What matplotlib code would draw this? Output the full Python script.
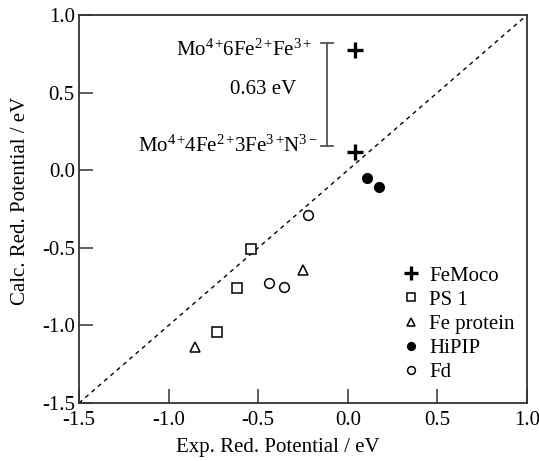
import numpy as np
import matplotlib
matplotlib.use("Agg")
import matplotlib.pyplot as plt

plt.rcParams["font.family"] = ["Liberation Serif", "DejaVu Serif"]
plt.rcParams["mathtext.fontset"] = "custom"
plt.rcParams["mathtext.rm"] = "Liberation Serif"
plt.rcParams["mathtext.it"] = "Liberation Serif:italic"

# data (exp, calc) in eV
femoco_x = [0.04, 0.04]
femoco_y = [0.775, 0.12]
ps1_x = [-0.54, -0.62, -0.73]
ps1_y = [-0.51, -0.76, -1.04]
feprot_x = [-0.25, -0.85]
feprot_y = [-0.64, -1.14]
hipip_x = [0.107, 0.174]
hipip_y = [-0.05, -0.108]
fd_x = [-0.22, -0.44, -0.356]
fd_y = [-0.29, -0.727, -0.753]

ticks = [-1.5, -1.0, -0.5, 0.0, 0.5, 1.0]
tick_labels = ["-1.5", "-1.0", "-0.5", "0.0", "0.5", "1.0"]

spine_col = "#333333"
fs = 15

fig = plt.figure(figsize=(5.39, 4.61), dpi=100)
ax = fig.add_axes([79 / 539, 1 - 403 / 461, 448 / 539, 388 / 461])

# ideal agreement line
ax.plot([-1.5, 1.0], [-1.5, 1.0], ls=(0, (3, 3)), color="black", lw=1.0, zorder=1)

ax.plot(femoco_x, femoco_y, ls="none", marker="+", ms=12, mew=2.4,
        color="black", label="FeMoco")
ax.plot(ps1_x, ps1_y, ls="none", marker="s", ms=6.5, mew=1.1, mfc="white",
        mec="black", label="PS 1")
ax.plot(feprot_x, feprot_y, ls="none", marker="^", ms=7, mew=1.1, mfc="white",
        mec="black", label="Fe protein")
ax.plot(hipip_x, hipip_y, ls="none", marker="o", ms=7, mew=1.0, mfc="black",
        mec="black", label="HiPIP")
ax.plot(fd_x, fd_y, ls="none", marker="o", ms=7, mew=1.1, mfc="white",
        mec="black", label="Fd")

# 0.63 eV bracket between the two FeMoco states
bx, btop, bbot, cap = -0.116, 0.82, 0.156, 0.033
ax.plot([bx, bx], [bbot, btop], color="#555555", lw=1.3)
ax.plot([bx - cap, bx + cap], [btop, btop], color="#555555", lw=1.3)
ax.plot([bx - cap, bx + cap], [bbot, bbot], color="#555555", lw=1.3)
ax.text(-0.20, 0.775, r"$\mathrm{Mo^{4+}\!6Fe^{2+}\!Fe^{3+}}$", ha="right",
        va="center", fontsize=fs)
ax.text(-0.166, 0.155, r"$\mathrm{Mo^{4+}\!4Fe^{2+}\!3Fe^{3+}\!N^{3-}}$",
        ha="right", va="center", fontsize=fs)
ax.text(-0.473, 0.517, "0.63 eV", ha="center", va="center", fontsize=fs)

ax.set_xlim(-1.5, 1.0)
ax.set_ylim(-1.5, 1.0)
ax.set_xticks(ticks)
ax.set_xticklabels(tick_labels)
ax.set_yticks(ticks)
ax.set_yticklabels(tick_labels)
ax.tick_params(direction="in", length=10, width=1.1, color=spine_col,
               labelsize=fs)
ax.tick_params(axis="x", pad=6)
ax.tick_params(axis="y", pad=3)
for s in ax.spines.values():
    s.set_color(spine_col)
    s.set_linewidth(1.3)

ax.set_xlabel("Exp. Red. Potential / eV", fontsize=fs)
ax.set_ylabel("Calc. Red. Potential / eV", fontsize=fs)
ax.xaxis.set_label_coords(0.444, -0.09)
ax.yaxis.set_label_coords(-0.11, 0.52)

ax.legend(loc="upper left", bbox_to_anchor=(0.717, 0.353), frameon=False,
          fontsize=fs, handlelength=1.0, handletextpad=0.4, labelspacing=0.22,
          borderaxespad=0, borderpad=0, markerscale=0.8)

fig.savefig("out.png", dpi=100)
